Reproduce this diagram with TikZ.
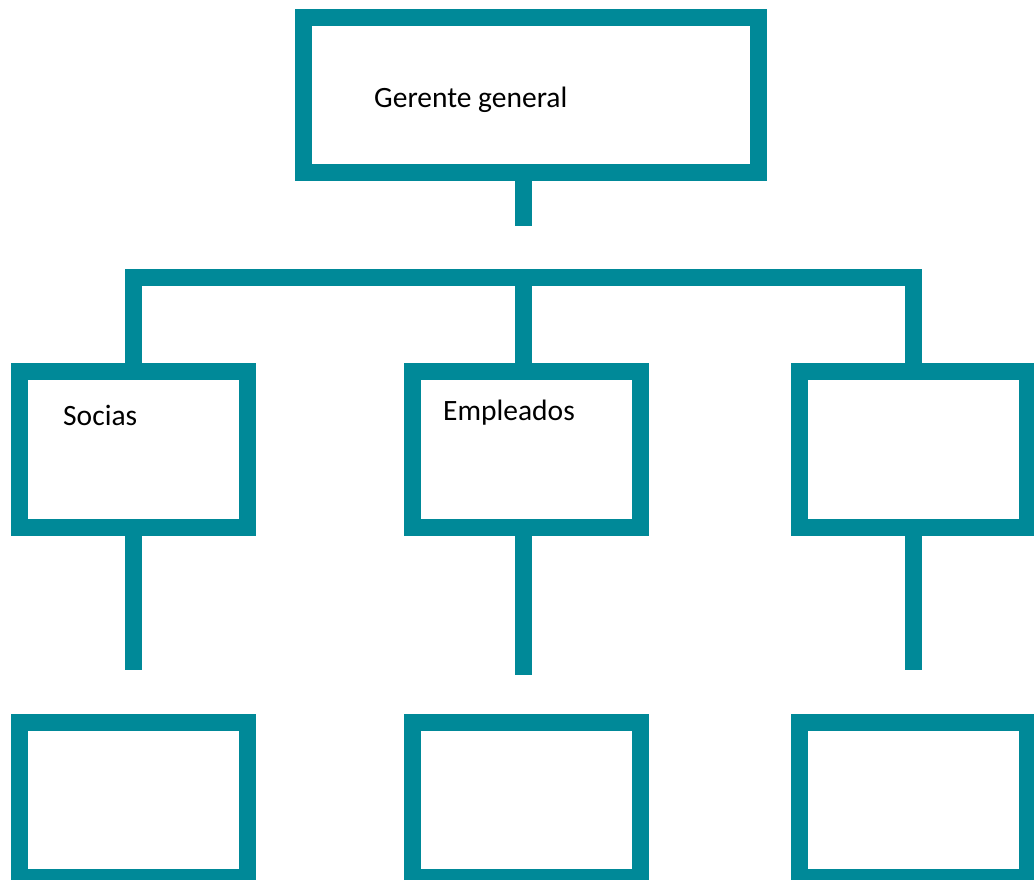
\documentclass[tikz,border=0pt]{standalone}
\usepackage{fontspec}
\setmainfont{Carlito}
\definecolor{orgteal}{RGB}{0,137,152}
\tikzset{
  orgbox/.style={draw=orgteal, line width=17pt, fill=white, rectangle, inner sep=0pt},
  orgline/.style={draw=orgteal, line width=17pt, line cap=butt, line join=miter},
  orgtext/.style={inner sep=0pt, anchor=base west, font=\fontsize{29.5}{35}\selectfont}
}
\begin{document}
\begin{tikzpicture}[x=1pt, y=-1pt]
\useasboundingbox (0,0) rectangle (1034,879);

% Define the boxes
\node[orgbox, minimum width=455pt, minimum height=155pt] (G) at (531,95) {};
\node[orgbox, minimum width=228pt, minimum height=156pt] (S1) at (133.5,449.5) {};
\node[orgbox, minimum width=228pt, minimum height=156pt] (S2) at (526.5,449.5) {};
\node[orgbox, minimum width=228pt, minimum height=156pt] (S3) at (913.5,449.5) {};
\node[orgbox, minimum width=228pt, minimum height=155pt] (B1) at (133.5,800) {};
\node[orgbox, minimum width=228pt, minimum height=155pt] (B2) at (526.5,800) {};
\node[orgbox, minimum width=228pt, minimum height=155pt] (B3) at (913.5,800) {};

% Texts
\node[orgtext] (Gt) at (374,107) {Gerente general};
\node[orgtext] (S1t) at (63,425) {Socias};
\node[orgtext] (S2t) at (443,420) {Empleados};

% Connectors
\coordinate (hub) at (523.5,277.5);
\coordinate (Gend) at (523.5,226);
\coordinate (S1end) at (133,670);
\coordinate (S2end) at (523.5,675);
\coordinate (S3end) at (913.5,670);
\draw[orgline] (Gend |- G.south) -- (Gend);
\draw[orgline] (S1end |- S1.north) |- (hub) -| (S3end |- S3.north);
\draw[orgline] (hub) -- (hub |- S2.north);
\draw[orgline] (S1end |- S1.south) -- (S1end);
\draw[orgline] (S2end |- S2.south) -- (S2end);
\draw[orgline] (S3end |- S3.south) -- (S3end);

\end{tikzpicture}
\end{document}
